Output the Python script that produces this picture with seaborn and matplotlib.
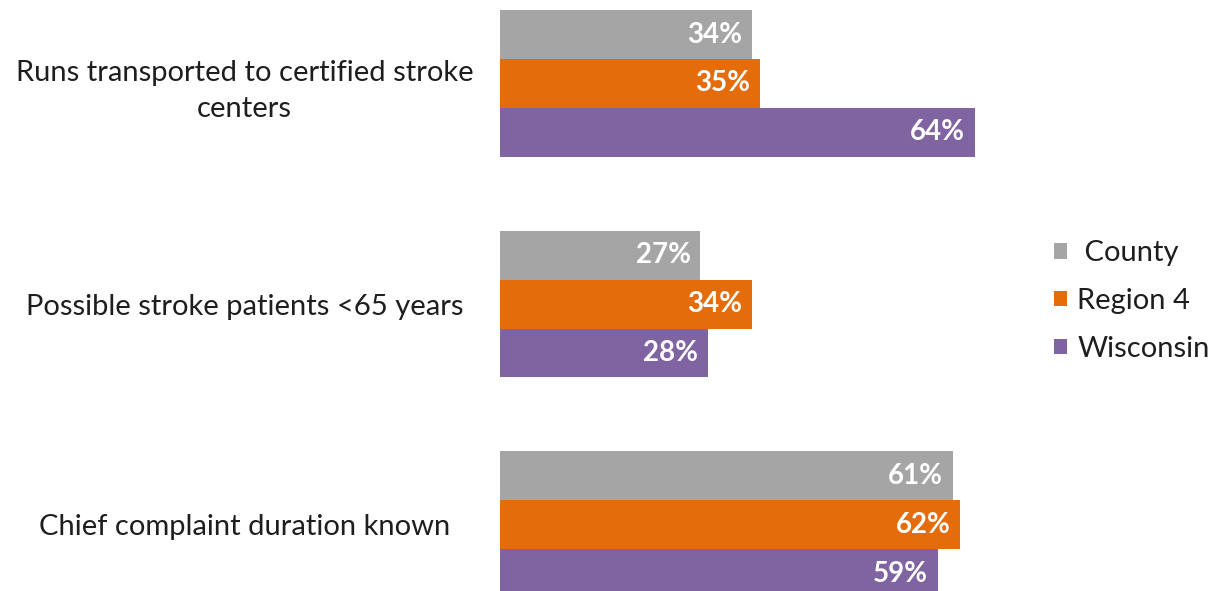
import matplotlib
matplotlib.use("Agg")
import matplotlib.pyplot as plt
import seaborn as sns
import pandas as pd
from matplotlib.patches import Patch

categories = [
    "Runs transported to certified stroke\ncenters",
    "Possible stroke patients <65 years",
    "Chief complaint duration known",
]
series = ["County", "Region 4", "Wisconsin"]
county = [34, 27, 61]
region4 = [35, 34, 62]
wisconsin = [64, 28, 59]
colors = ["#A5A5A5", "#E46C0A", "#8064A2"]

rows = []
for name, vals in zip(series, [county, region4, wisconsin]):
    for cat, v in zip(categories, vals):
        rows.append({"category": cat, "series": name, "value": v})
df = pd.DataFrame(rows)

sns.set_theme(style="white")
plt.rcParams["font.family"] = ["Lato", "DejaVu Sans"]

fig = plt.figure(figsize=(12.13, 5.91), dpi=100)
ax = fig.add_axes([500 / 1213, 0, 713 / 1213, 1])

sns.barplot(
    data=df, y="category", x="value", hue="series", order=categories,
    hue_order=series, palette=colors, orient="h", width=0.665,
    saturation=1, legend=False, linewidth=0, edgecolor="none", ax=ax,
)

ax.set_xlim(0, 713 / 7.42)
ax.set_ylim(2.30, -0.378)

# value labels inside the end of each bar
for container in ax.containers:
    for patch in container:
        w = patch.get_width()
        yc = patch.get_y() + patch.get_height() / 2
        ax.annotate(f"{w:.0f}%", xy=(w, yc), xytext=(-7, 0),
                    textcoords="offset points", ha="right", va="center",
                    color="white", fontsize=20, fontweight="bold")

ax.set_xlabel("")
ax.set_ylabel("")
ax.set_xticks([])
for s in ax.spines.values():
    s.set_visible(False)
ax.tick_params(axis="y", length=0, pad=184, labelsize=21, labelcolor="#1e1e1e")
for lbl in ax.get_yticklabels():
    lbl.set_ha("center")
    lbl.set_multialignment("center")
    lbl.set_linespacing(1.5)

handles = [Patch(facecolor=c, edgecolor="none") for c in colors]
fig.legend(handles, [" County", "Region 4", "Wisconsin"],
           loc="center left", bbox_to_anchor=(1054 / 1213, 1 - 301 / 591),
           frameon=False, fontsize=21, handlelength=0.45, handleheight=0.45,
           handletextpad=0.35, labelspacing=0.75, borderpad=0, borderaxespad=0,
           labelcolor="#1e1e1e")

fig.savefig("out.png", dpi=100)
